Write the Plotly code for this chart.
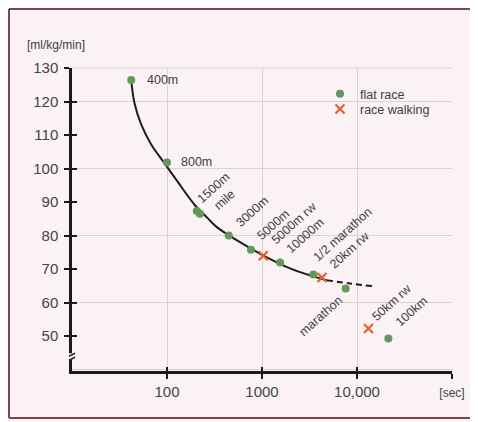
import numpy as np
import plotly.graph_objects as go

# ---- data ----
flat_labels = ["400m", "800m", "1500m", "mile", "3000m", "5000m", "10000m",
               "1/2 marathon", "marathon", "100km"]
flat_sec = [42, 100, 206, 222, 447, 765, 1550, 3470, 7600, 21400]
flat_vo2 = [126.4, 101.8, 87.3, 86.5, 80.0, 75.8, 72.0, 68.4, 64.2, 49.3]

walk_labels = ["5000m rw", "20km rw", "50km rw"]
walk_sec = [1030, 4280, 13200]
walk_vo2 = [74.0, 67.5, 52.3]

curve_sec = [42, 45.5, 53.5, 68.2, 94.1, 130, 195, 268, 332, 580, 1012, 1945, 3400, 4780]
curve_vo2 = [126.4, 119.5, 113.2, 107.2, 101.6, 96.0, 89.2, 85.2, 82.6, 78.1, 74.2, 70.3, 67.9, 66.7]
dash_sec = [4780, 8450, 14700]
dash_vo2 = [66.7, 65.7, 64.9]

y_ticks = [50, 60, 70, 80, 90, 100, 110, 120, 130]
x_ticks = [100, 1000, 10000, 100000]
x_ticktext = ["100", "1000", "10,000", "<span style='font-size:12px'>[sec]</span>"]

FONT = "Liberation Sans, Arial, sans-serif"
BG = "#faf2f5"
GRID = "#d9d1d4"
GREEN = "#64975a"
ORANGE = "#e4602e"
TXT = "#404040"

fig = go.Figure()
fig.add_trace(go.Scatter(x=curve_sec, y=curve_vo2, mode="lines",
                         line=dict(color="#1e1e1e", width=2, shape="spline", smoothing=1.0),
                         showlegend=False, hoverinfo="skip"))
fig.add_trace(go.Scatter(x=dash_sec, y=dash_vo2, mode="lines",
                         line=dict(color="#1e1e1e", width=2, shape="spline", dash="6px,4px"),
                         showlegend=False, hoverinfo="skip"))
fig.add_trace(go.Scatter(x=flat_sec, y=flat_vo2, mode="markers", name="flat race",
                         marker=dict(color=GREEN, size=8, symbol="circle"),
                         legend="legend"))
fig.add_trace(go.Scatter(x=walk_sec, y=walk_vo2, mode="markers", name="race walking",
                         marker=dict(color=ORANGE, size=9, symbol="x-thin",
                                     line=dict(color=ORANGE, width=2.2)),
                         legend="legend2"))
# overlay axes, used only to draw the inward half of the crossing ticks
fig.add_trace(go.Scatter(x=[], y=[], xaxis="x2", yaxis="y2", showlegend=False,
                         hoverinfo="skip"))

# ---- labels ----
label_style = {
    "400m": (14, 0, 0, "left"),
    "800m": (12, -1, 0, "left"),
    "1500m": (22, -17, -42, "center"),
    "3000m": (23, -24, -42, "center"),
    "5000m": (22, -25, -42, "center"),
    "10000m": (25, -26, -42, "center"),
    "1/2 marathon": (30, -40, -42, "center"),
    "marathon": (-25, 27, -42, "center"),
    "100km": (24, -27, -42, "center"),
    "5000m rw": (31, -33, -42, "center"),
    "20km rw": (28, -27, -42, "center"),
    "50km rw": (24, -26, -42, "center"),
}
label_text = {"1500m": "1500m<br>mile"}

all_labels = flat_labels + walk_labels
all_sec = flat_sec + walk_sec
all_vo2 = flat_vo2 + walk_vo2
for lab, sx, vy in zip(all_labels, all_sec, all_vo2):
    if lab not in label_style:
        continue
    dx, dy, ang, xa = label_style[lab]
    fig.add_annotation(x=np.log10(sx), y=vy, xref="x", yref="y",
                       text=label_text.get(lab, lab), showarrow=False,
                       textangle=ang, xanchor=xa, yanchor="middle",
                       xshift=dx, yshift=-dy, align="center",
                       font=dict(family=FONT, size=12.5, color=TXT))

fig.add_annotation(text="[ml/kg/min]", xref="paper", yref="paper",
                   x=-0.124, y=1.076, xanchor="left", yanchor="middle",
                   showarrow=False, font=dict(family=FONT, size=12, color=TXT))

# ---- decorations: top frame line of plot, axis break, outer frame ----
fig.add_shape(type="line", xref="x domain", yref="y domain", x0=0, x1=1, y0=1, y1=1,
              line=dict(color=GRID, width=1), layer="below")
fig.add_shape(type="rect", xref="paper", yref="y", xsizemode="pixel", ysizemode="pixel",
              xanchor=0, yanchor=44, x0=-3, x1=3, y0=-3, y1=3,
              fillcolor=BG, line=dict(width=0), layer="above")
for off in (-2, 2):
    fig.add_shape(type="line", xref="paper", yref="y", xsizemode="pixel", ysizemode="pixel",
                  xanchor=0, yanchor=44, x0=-3, x1=3, y0=off - 2, y1=off + 1,
                  line=dict(color="#222222", width=1.5), layer="above")
frame = dict(color="#7a4747", width=2)
fig.add_shape(type="line", xref="paper", yref="paper", xsizemode="pixel", ysizemode="pixel",
              xanchor=0, yanchor=1, x0=-63, x1=406, y0=59, y1=59, line=frame)
fig.add_shape(type="line", xref="paper", yref="paper", xsizemode="pixel", ysizemode="pixel",
              xanchor=0, yanchor=1, x0=-63, x1=-63, y0=59, y1=-350, line=frame)
fig.add_shape(type="line", xref="paper", yref="paper", xsizemode="pixel", ysizemode="pixel",
              xanchor=0, yanchor=1, x0=-63, x1=406, y0=-350, y1=-350, line=frame)

axis_font = dict(family=FONT, size=15, color="#444444")
fig.update_layout(
    width=470, height=414, autosize=False,
    margin=dict(l=64, r=26, t=60, b=51, pad=0),
    paper_bgcolor=BG, plot_bgcolor=BG,
    font=dict(family=FONT, color=TXT),
    xaxis=dict(type="log", range=[1, 5], tickvals=x_ticks, ticktext=x_ticktext,
               showline=True, linecolor="#1a1a1a", linewidth=2.5,
               ticks="outside", ticklen=5, tickwidth=1.5, tickcolor="#1a1a1a",
               showgrid=True, gridcolor=GRID, gridwidth=1, zeroline=False,
               tickfont=axis_font),
    yaxis=dict(range=[39.6, 130], tickvals=y_ticks,
               showline=True, linecolor="#1a1a1a", linewidth=2.5,
               ticks="outside", ticklen=5, tickwidth=1.5, tickcolor="#1a1a1a",
               showgrid=False, zeroline=False, tickfont=axis_font,
               ticklabelstandoff=3,
               minor=dict(tick0=0, dtick=20, showgrid=True, gridcolor=GRID,
                          gridwidth=1, ticks="")),
    xaxis2=dict(type="log", range=[1, 5], overlaying="x", anchor="y2", side="bottom",
                tickvals=x_ticks, showticklabels=False, showline=False, showgrid=False,
                zeroline=False, ticks="inside", ticklen=4, tickwidth=1.5,
                tickcolor="#1a1a1a"),
    yaxis2=dict(range=[39.6, 130], overlaying="y", anchor="x2", side="left",
                tickvals=y_ticks, showticklabels=False, showline=False, showgrid=False,
                zeroline=False, ticks="inside", ticklen=5, tickwidth=1.5,
                tickcolor="#1a1a1a"),
    legend=dict(x=0.6526, y=0.963, xanchor="left", yanchor="top",
                bgcolor="rgba(0,0,0,0)", font=dict(family=FONT, size=12.5, color=TXT)),
    legend2=dict(x=0.6526, y=0.913, xanchor="left", yanchor="top",
                 bgcolor="rgba(0,0,0,0)", font=dict(family=FONT, size=12.5, color=TXT)),
)

fig.write_html("out.html")
